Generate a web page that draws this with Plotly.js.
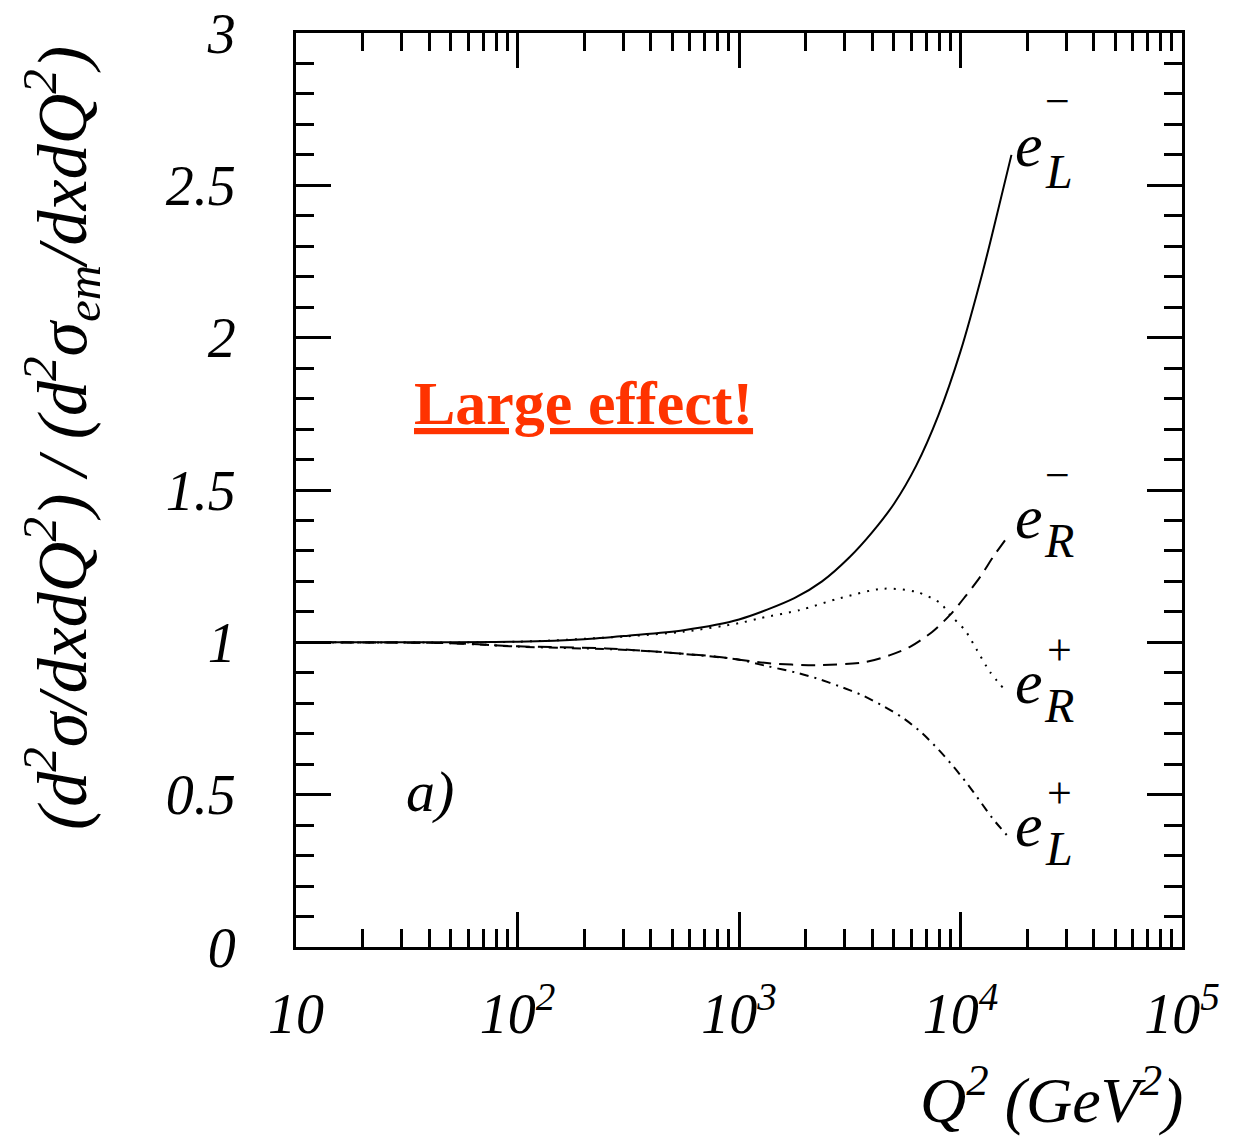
<!DOCTYPE html>
<html>
<head>
<meta charset="utf-8">
<script src="https://cdn.plot.ly/plotly-3.0.1.min.js"></script>
<style>html,body{margin:0;padding:0;background:#fff}</style>
</head>
<body>
<div id="chart" style="width:1257px;height:1144px"></div>
<script>
// Ratio of the full NC cross section to the pure photon-exchange one,
// for polarised e- / e+ beams, versus Q^2 (GeV^2).

// e_L^-  (solid)
var q2_eLminus = [10, 30, 100, 200, 316, 562, 1000, 1778, 2371, 3162, 3981, 5012, 6310, 7943, 10000, 12589, 14125, 16982];
var r_eLminus  = [1.0, 1.0, 1.002, 1.01, 1.022, 1.04, 1.075, 1.145, 1.2, 1.28, 1.36, 1.455, 1.58, 1.745, 1.955, 2.215, 2.36, 2.6];

// e_R^+  (dotted)
var q2_eRplus = [10, 100, 316, 562, 1000, 1259, 1884, 2858, 4467, 6353, 8091, 8974, 10471, 11858, 13583, 15849];
var r_eRplus  = [1.0, 1.002, 1.02, 1.035, 1.063, 1.08, 1.106, 1.145, 1.176, 1.165, 1.129, 1.09, 1.04, 0.975, 0.903, 0.844];

// e_R^-  (dashed)
var q2_eRminus = [10, 50, 100, 251, 447, 794, 1337, 2239, 3707, 4808, 5916, 7447, 8974, 10471, 12246, 14028, 16144];
var r_eRminus  = [1.0, 0.997, 0.987, 0.98, 0.968, 0.953, 0.932, 0.925, 0.935, 0.958, 0.985, 1.034, 1.090, 1.149, 1.214, 1.280, 1.342];

// e_L^+  (dash-dotted)
var q2_eLplus = [10, 50, 100, 316, 562, 1000, 1337, 1828, 2280, 2858, 3581, 4426, 5495, 6637, 7907, 9247, 10691, 12246, 14028, 16749];
var r_eLplus  = [1.0, 0.997, 0.986, 0.975, 0.962, 0.943, 0.922, 0.9, 0.880, 0.855, 0.827, 0.793, 0.752, 0.705, 0.650, 0.594, 0.537, 0.479, 0.420, 0.355];

// axis tick labels
var xTickVals = [10, 100, 1000, 10000, 100000];
var xTickText = ['10', '10<sup>2</sup>', '10<sup>3</sup>', '10<sup>4</sup>', '10<sup>5</sup>'];
var yTickVals = [0, 0.5, 1, 1.5, 2, 2.5, 3];
var yTickText = ['0', '0.5', '1', '1.5', '2', '2.5', '3'];

var serif = '"Liberation Serif", "Times New Roman", serif';

var xMinor = [];
[10, 100, 1000, 10000].forEach(function (d) {
  for (var k = 2; k <= 9; k++) xMinor.push(k * d);
});

function curve(x, y, dash) {
  return {
    x: x, y: y, type: 'scatter', mode: 'lines',
    line: {color: '#000', width: 2, dash: dash, shape: 'spline', smoothing: 0.8},
    hoverinfo: 'skip', showlegend: false
  };
}

var traces = [
  curve(q2_eLplus, r_eLplus, '9px,6px,2px,6px'),
  curve(q2_eRminus, r_eRminus, '14px,8px'),
  curve(q2_eRplus, r_eRplus, '2px,7px'),
  curve(q2_eLminus, r_eLminus, 'solid')
];

function txt(text, x, y, size, italic) {
  var f = {family: serif, size: size, color: '#000'};
  if (italic !== false) f.style = 'italic';
  return {
    text: text, xref: 'paper', yref: 'paper', x: x, y: y,
    xanchor: 'center', yanchor: 'middle', showarrow: false, font: f
  };
}

var annotations = [
  // curve labels
  txt('e', 0.827, 0.877, 62), txt('L', 0.861, 0.848, 48), txt('\u2212', 0.860, 0.925, 44, false),
  txt('e', 0.827, 0.471, 62), txt('R', 0.861, 0.445, 48), txt('\u2212', 0.860, 0.516, 44, false),
  txt('e', 0.827, 0.290, 62), txt('R', 0.861, 0.264, 48), txt('+', 0.862, 0.324, 44, false),
  txt('e', 0.827, 0.133, 62), txt('L', 0.861, 0.108, 48), txt('+', 0.862, 0.168, 44, false),
  // panel label
  txt('a)', 0.151, 0.170, 58),
  // highlight
  {
    text: '<u>Large effect!</u>', xref: 'paper', yref: 'paper', x: 0.324, y: 0.595,
    xanchor: 'center', yanchor: 'middle', showarrow: false,
    font: {family: serif, size: 62, color: '#ff3300', weight: 'bold'}
  },
  // x-axis title, right-aligned at the end of the axis
  {
    text: 'Q<sup>2</sup> (GeV<sup>2</sup>)', xref: 'paper', yref: 'paper',
    x: 1.003, y: -0.162, xanchor: 'right', yanchor: 'middle', showarrow: false,
    font: {family: serif, size: 64, color: '#000', style: 'italic'}
  },
  // y-axis title, placed toward the upper part of the axis
  {
    text: '(d<sup>2</sup>\u03C3/dxdQ<sup>2</sup>) / (d<sup>2</sup>\u03C3<sub>em</sub>/dxdQ<sup>2</sup>)',
    xref: 'paper', yref: 'paper', x: -0.264, y: 0.557, textangle: -90,
    xanchor: 'center', yanchor: 'middle', showarrow: false,
    font: {family: serif, size: 70, color: '#000', style: 'italic'}
  }
];

var layout = {
  width: 1257, height: 1144,
  margin: {l: 296, r: 75, t: 33, b: 197},
  paper_bgcolor: '#fff', plot_bgcolor: '#fff',
  showlegend: false,
  xaxis: {
    type: 'log', range: [1, 5],
    showgrid: false, zeroline: false,
    showline: true, linecolor: '#000', linewidth: 3, mirror: 'allticks',
    ticks: 'inside', ticklen: 35, tickwidth: 3, tickcolor: '#000',
    tickmode: 'array', tickvals: xTickVals, ticktext: xTickText,
    ticklabelstandoff: 16,
    tickfont: {family: serif, size: 56, color: '#000', style: 'italic'},
    minor: {tickmode: 'array', tickvals: xMinor, ticks: 'inside', ticklen: 18, tickwidth: 3, tickcolor: '#000', showgrid: false}
  },
  yaxis: {
    range: [0, 3],
    showgrid: false, zeroline: false,
    showline: true, linecolor: '#000', linewidth: 3, mirror: 'allticks',
    ticks: 'inside', ticklen: 35, tickwidth: 3, tickcolor: '#000',
    tickmode: 'array', tickvals: yTickVals, ticktext: yTickText,
    ticklabelstandoff: 46,
    tickfont: {family: serif, size: 56, color: '#000', style: 'italic'},
    minor: {dtick: 0.1, ticks: 'inside', ticklen: 18, tickwidth: 3, tickcolor: '#000', showgrid: false}
  },
  annotations: annotations
};

Plotly.newPlot('chart', traces, layout, {staticPlot: true, displayModeBar: false});
</script>
</body>
</html>
